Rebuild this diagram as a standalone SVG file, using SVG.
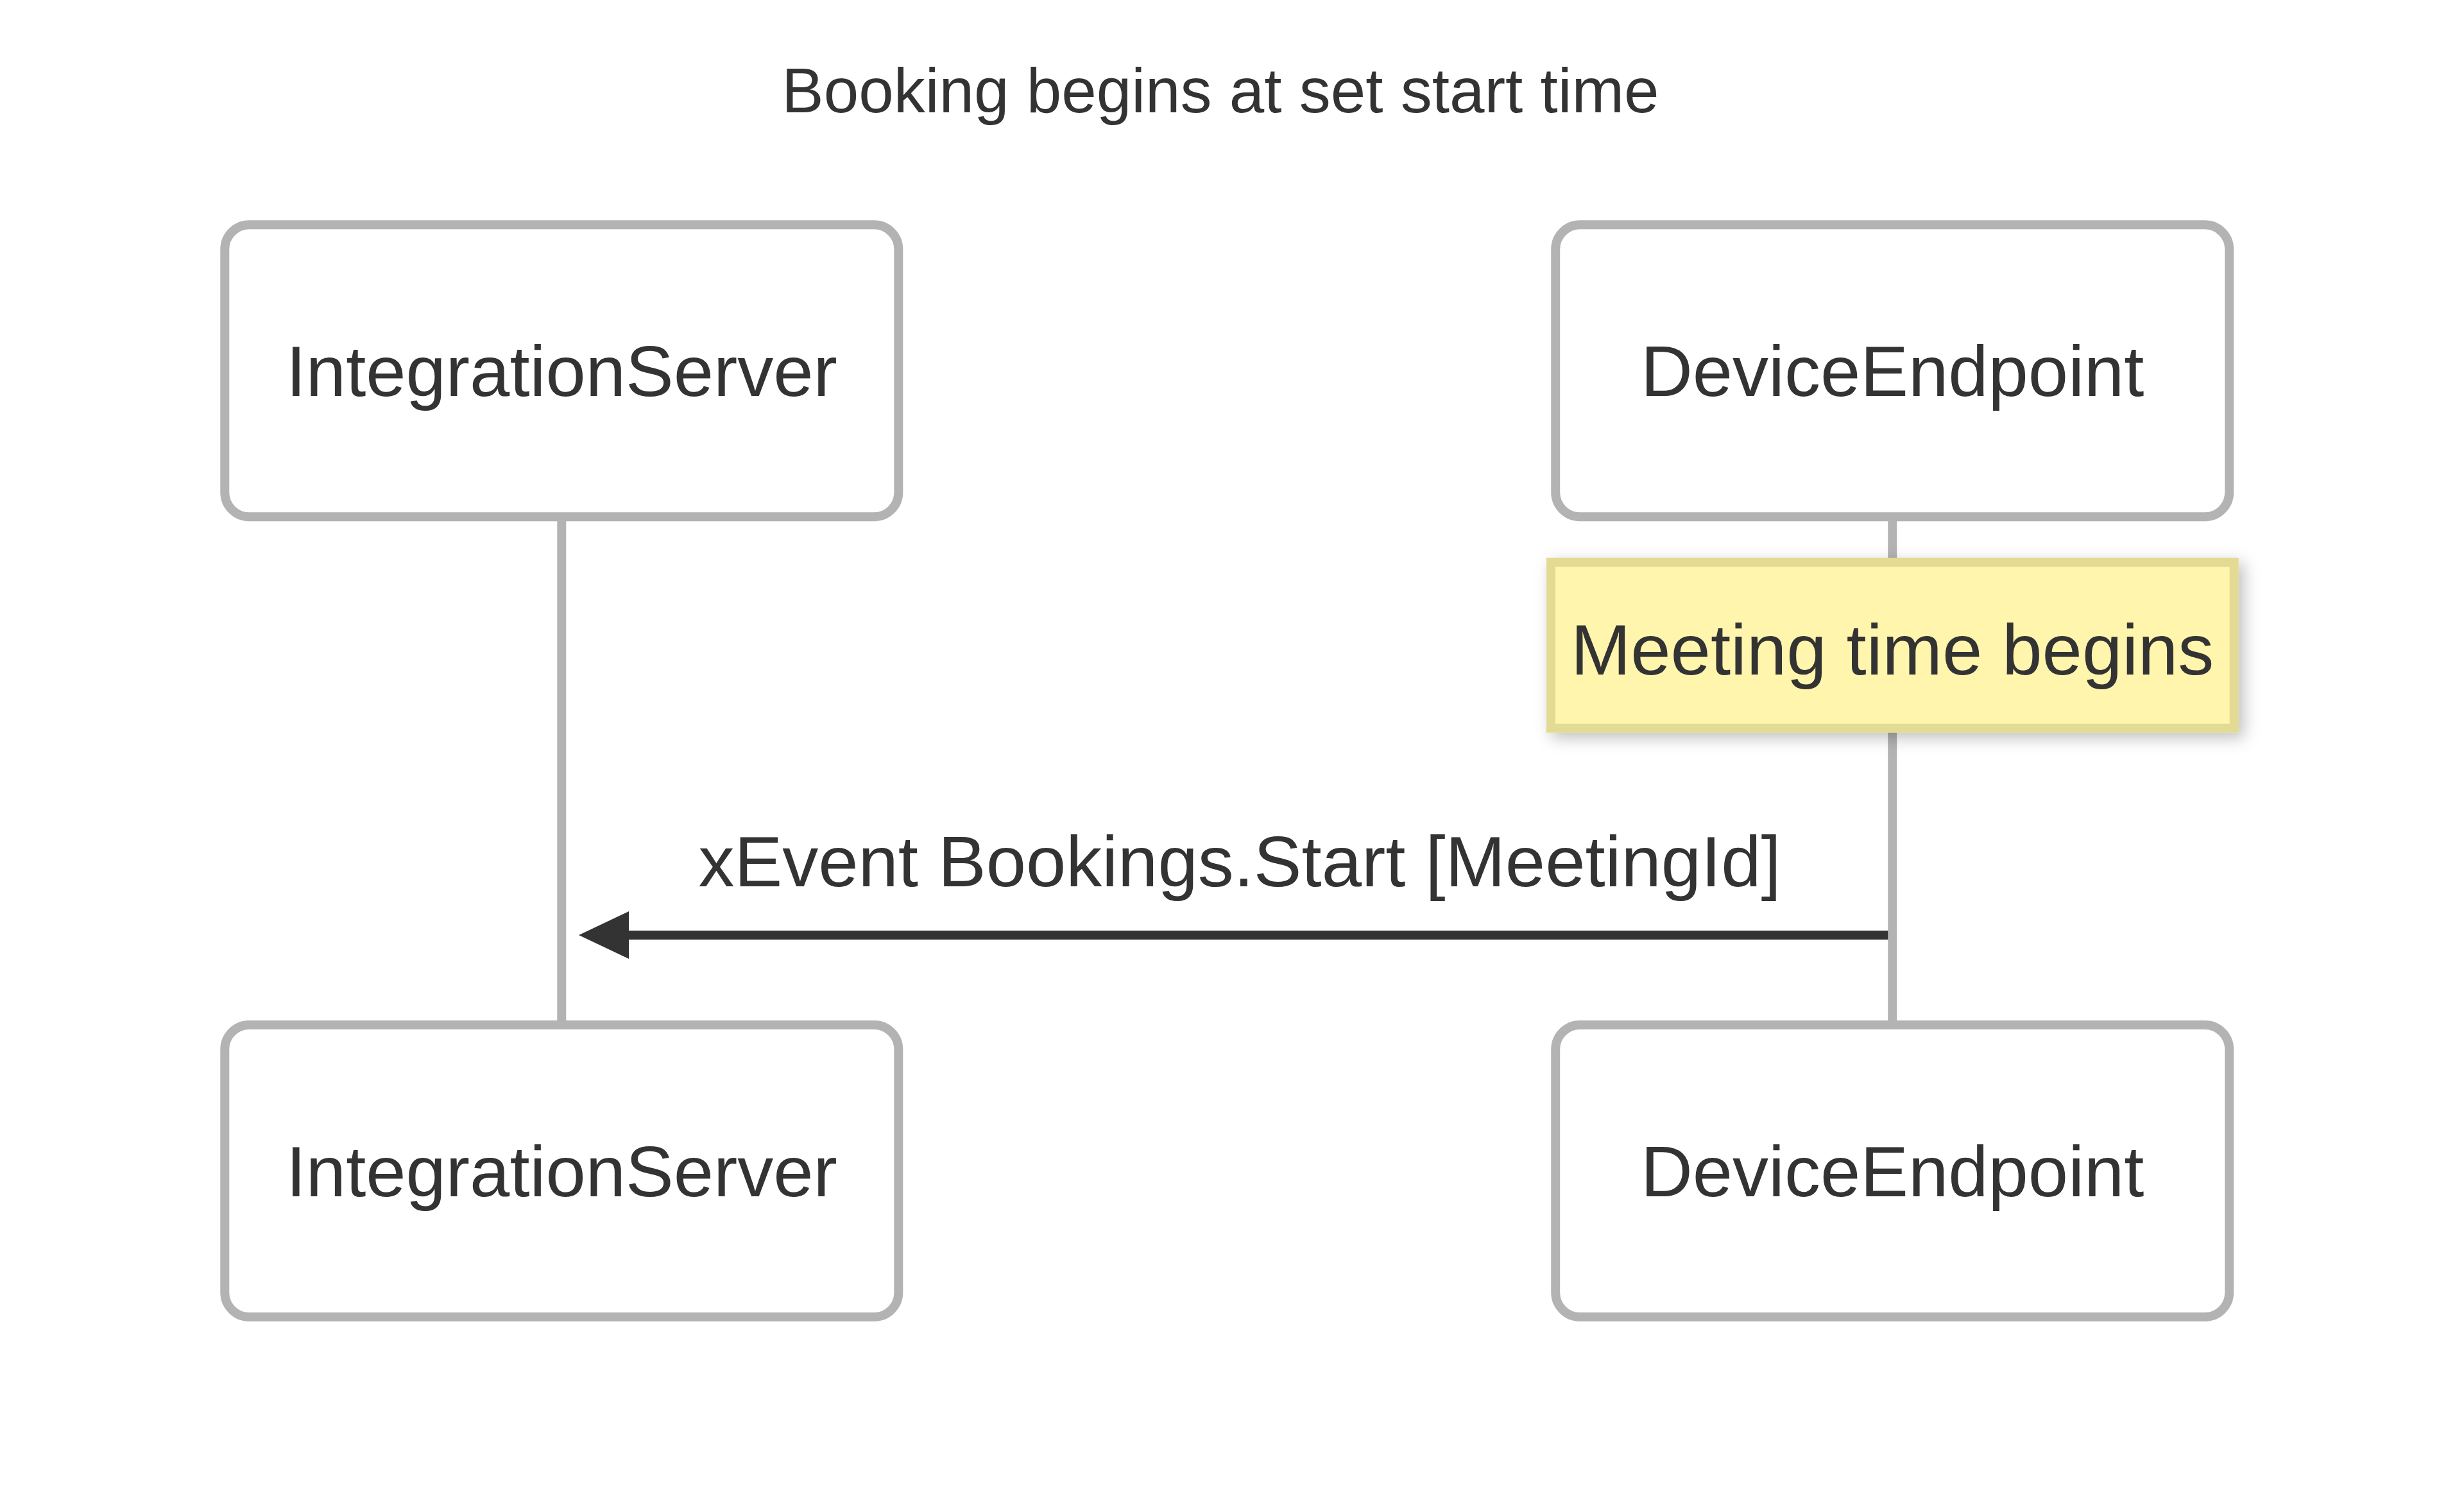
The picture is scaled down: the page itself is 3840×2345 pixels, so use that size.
<svg xmlns="http://www.w3.org/2000/svg" width="3840" height="2345" viewBox="0 0 3840 2345">
<style>
.actor{fill:#ffffff;stroke:#b3b3b3;stroke-width:14}
.lbl{font-family:"Liberation Sans",Arial,sans-serif;fill:#333333;text-anchor:middle}
.big{font-size:112px}
.title{font-size:98px}
.life{stroke:#b3b3b3;stroke-width:14}
.msg{stroke:#333333;stroke-width:14;fill:none}
.note{fill:#fff5ad;stroke:#e3da93;stroke-width:14}
</style>
<defs>
<filter id="shadow" x="-10%" y="-20%" width="130%" height="160%">
<feDropShadow dx="8" dy="8" stdDeviation="12" flood-color="#000000" flood-opacity="0.25"/>
</filter>
<marker id="arrow" markerUnits="userSpaceOnUse" viewBox="0 0 78 74" refX="0" refY="37" markerWidth="78" markerHeight="74" orient="auto">
<path d="M0,0 L78,37 L0,74 Z" fill="#333333"/>
</marker>
</defs>
<rect width="3840" height="2345" fill="#ffffff"/>
<text class="lbl title" x="1902" y="175">Booking begins at set start time</text>
<g id="lifelines">
<line class="life" x1="875.3" y1="805" x2="875.3" y2="1597"/>
<line class="life" x1="2949.2" y1="805" x2="2949.2" y2="1597"/>
</g>
<g id="IntegrationServer-top">
<rect class="actor" x="350.3" y="350.3" width="1050" height="455" rx="38" ry="38"/>
<text class="lbl big" x="875.3" y="617">IntegrationServer</text>
</g>
<g id="DeviceEndpoint-top">
<rect class="actor" x="2424.2" y="350.3" width="1050" height="455" rx="38" ry="38"/>
<text class="lbl big" x="2949.2" y="617">DeviceEndpoint</text>
</g>
<g id="IntegrationServer-bottom">
<rect class="actor" x="350.3" y="1597" width="1050" height="455" rx="38" ry="38"/>
<text class="lbl big" x="875.3" y="1864">IntegrationServer</text>
</g>
<g id="DeviceEndpoint-bottom">
<rect class="actor" x="2424.2" y="1597" width="1050" height="455" rx="38" ry="38"/>
<text class="lbl big" x="2949.2" y="1864">DeviceEndpoint</text>
</g>
<g id="note-meeting">
<rect class="note" x="2417" y="876" width="1064.7" height="258.7" filter="url(#shadow)"/>
<text class="lbl big" x="2949.2" y="1051">Meeting time begins</text>
</g>
<g id="connectors">
<line class="msg" x1="2942.3" y1="1457" x2="980" y2="1457" marker-end="url(#arrow)"/>
<text class="lbl big" x="1932" y="1381">xEvent Bookings.Start [MeetingId]</text>
</g>
</svg>
